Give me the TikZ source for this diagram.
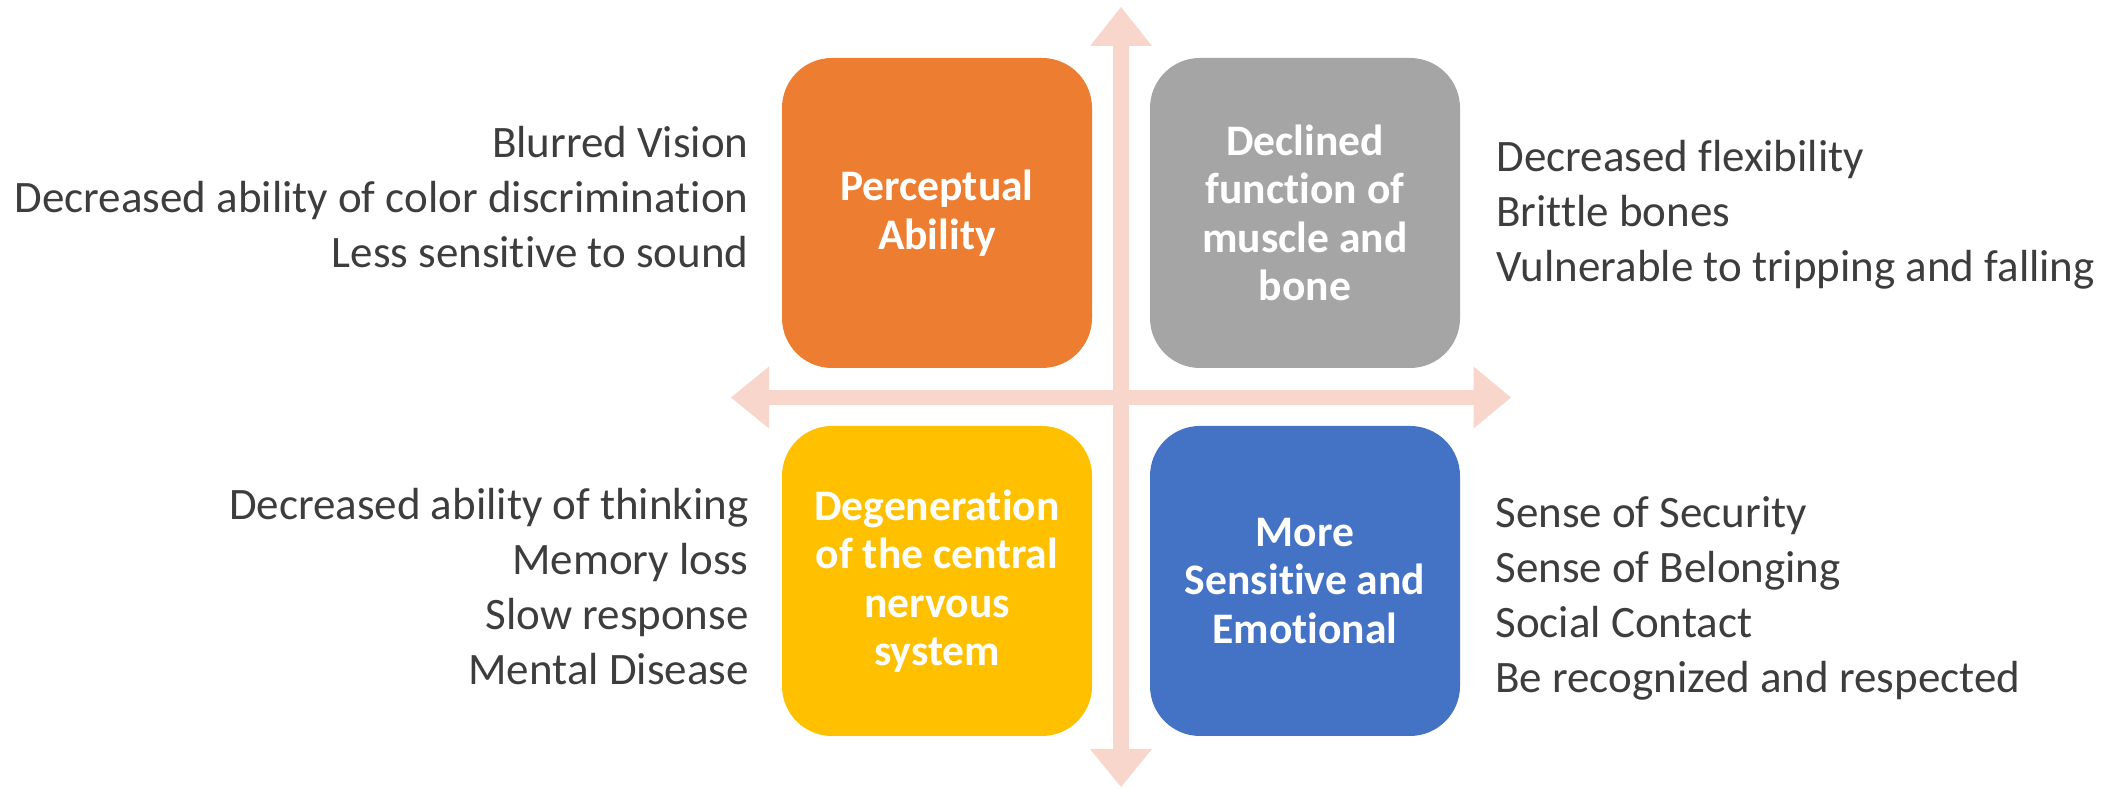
\documentclass[tikz,border=0pt]{standalone}
\usepackage{fontspec}
\setmainfont{Carlito}[Ligatures=NoCommon]
\usepackage{xcolor}
\usepackage{tikz}
\usetikzlibrary{positioning}
\definecolor{axisPink}{HTML}{F8D6CB}
\definecolor{boxOrange}{HTML}{ED7D31}
\definecolor{boxGray}{HTML}{A5A5A5}
\definecolor{boxYellow}{HTML}{FFC000}
\definecolor{boxBlue}{HTML}{4472C4}
\definecolor{listGray}{HTML}{3D3D3D}
\tikzset{quad box/.style={rounded corners=0.5cm,minimum width=3.1cm,minimum height=3.1cm,inner sep=0pt,align=center,text=white,font=\fontsize{12.4}{13.8}\selectfont\bfseries},
	list text/.style={inner sep=0pt,text=listGray,font=\fontsize{12.8}{15.6}\selectfont}}

\begin{document}
\begin{tikzpicture}
		\useasboundingbox (0,0) rectangle (21.27,7.89);
		
		\fill[axisPink] (11.13,0.40) rectangle (11.29,7.43);
		\fill[axisPink] (11.21,7.82) -- (10.90,7.43) -- (11.52,7.43) -- cycle;
		\fill[axisPink] (11.21,0.02) -- (10.90,0.40) -- (11.52,0.40) -- cycle;
		
		\fill[axisPink] (7.69,3.84) rectangle (14.735,3.99);
		\fill[axisPink] (7.31,3.915) -- (7.69,4.225) -- (7.69,3.605) -- cycle;
		\fill[axisPink] (15.11,3.915) -- (14.735,4.225) -- (14.735,3.605) -- cycle;
		
		
		\node[quad box,fill=boxOrange] (perc) at (9.37,5.76) {Perceptual\\Ability};
		\node[quad box,fill=boxGray] (bone) at (13.05,5.76) {Declined\\function of\\muscle and\\bone};
		\node[quad box,fill=boxYellow] (nerv) at (9.37,2.08) {Degeneration\\of the central\\nervous\\system};
		\node[quad box,fill=boxBlue] (emot) at (13.05,2.08) {More\\Sensitive and\\Emotional};
		
		
		\node[list text,align=right,left=0.32cm of perc,yshift=1.6mm] (percList) {Blurred Vision\\Decreased ability of color discrimination\\Less sensitive to sound};
		\node[list text,align=left,right=0.35cm of bone,yshift=-0.2mm] (boneList) {Decreased flexibility\\Brittle bones\\Vulnerable to tripping and falling};
		\node[list text,align=right,left=0.32cm of nerv,yshift=-0.55mm] (nervList) {Decreased ability of thinking\\Memory loss\\Slow response\\Mental Disease};
		\node[list text,align=left,right=0.34cm of emot,yshift=-1.75mm] (emotList) {Sense of Security\\Sense of Belonging\\Social Contact\\Be recognized and respected};
		
	\end{tikzpicture}
\end{document}
